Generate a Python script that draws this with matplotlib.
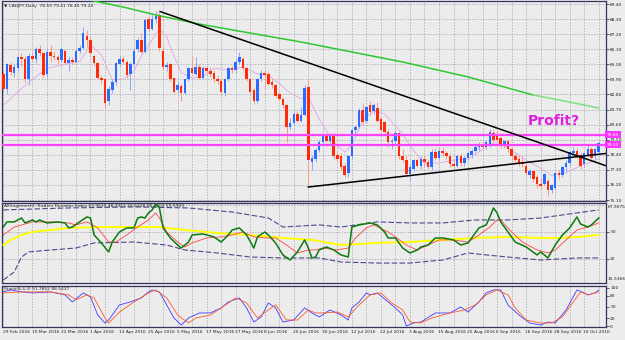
import matplotlib
matplotlib.use('Agg')
import matplotlib.pyplot as plt
import matplotlib.transforms as mtransforms

# ---- price data (CADJPY daily, 29 Feb 2016 .. 14 Oct 2016) ----
opens = [84.3, 83.2, 84.95, 84.4, 84.7, 85.5, 85.4, 83.9, 85.6, 85.4,
         86.1, 85.8, 84.3, 85.9, 85.6, 85.5, 85.3, 86.0, 85.1, 85.3,
         85.2, 86.0, 86.2, 87.1, 86.8, 85.6, 85.1, 84.0, 83.9, 82.3,
         83.1, 83.7, 85.0, 85.4, 85.2, 84.3, 85.0, 86.1, 86.8, 85.9,
         88.3, 87.6, 88.3, 88.6, 86.0, 84.8, 85.0, 84.0, 83.1, 83.4,
         82.9, 83.9, 84.7, 84.3, 84.8, 84.0, 84.7, 84.5, 84.4, 83.9,
         83.8, 82.9, 83.9, 84.7, 84.6, 85.2, 85.4, 84.7, 83.9, 83.1,
         82.3, 83.9, 84.4, 84.3, 83.7, 83.5, 82.8, 82.5, 82.0, 80.4,
         80.7, 81.4, 80.9, 81.3, 83.35, 77.9, 78.1, 78.75, 79.3, 79.8,
         79.4, 79.8, 78.4, 78.3, 77.6, 77.1, 78.3, 80.2, 80.4, 81.7,
         80.9, 82.0, 81.6, 81.8, 81.0, 80.8, 80.1, 79.3, 79.4, 80.0,
         78.3, 78.0, 77.0, 77.4, 78.0, 77.6, 78.1, 77.9, 77.5, 78.6,
         78.2, 78.7, 78.5, 78.3, 77.7, 77.6, 78.3, 77.8, 78.2, 78.4,
         78.7, 78.95, 79.2, 79.0, 79.1, 80.0, 79.9, 79.6, 79.1, 79.4,
         78.8, 78.3, 78.1, 77.9, 77.6, 76.9, 77.2, 76.8, 76.3, 76.3,
         76.5, 75.8, 76.0, 77.1, 76.9, 77.5, 77.8, 78.5, 78.7, 78.4,
         77.7, 78.4, 78.8, 78.3, 78.59]
highs = [84.5, 85.1, 85.2, 85.0, 85.7, 85.8, 85.6, 85.8, 85.9, 86.3,
         86.4, 85.9, 86.1, 86.4, 86.0, 85.7, 86.3, 86.1, 85.6, 85.5,
         86.1, 86.4, 87.7, 87.5, 87.0, 85.7, 85.2, 84.2, 84.0, 83.4,
         83.9, 85.2, 85.7, 85.6, 85.3, 85.2, 86.2, 87.0, 87.3, 88.3,
         88.5, 88.6, 88.9, 88.85, 86.3, 85.2, 85.1, 84.1, 83.7, 83.6,
         84.0, 84.8, 85.5, 85.5, 85.0, 84.9, 84.9, 84.8, 84.6, 84.2,
         83.9, 84.0, 84.8, 84.9, 85.4, 85.9, 85.5, 84.8, 84.0, 83.3,
         84.0, 84.6, 84.6, 84.5, 84.0, 83.6, 82.9, 82.6, 82.1, 81.1,
         81.5, 81.6, 81.9, 83.5, 83.86, 78.4, 78.9, 79.5, 79.9, 79.9,
         80.0, 80.1, 78.6, 78.5, 77.8, 78.4, 80.3, 80.6, 81.8, 82.2,
         82.0, 82.3, 82.2, 82.25, 81.2, 80.9, 80.3, 79.6, 80.2, 80.1,
         78.8, 78.4, 77.7, 78.1, 78.2, 78.3, 78.3, 78.1, 78.8, 78.9,
         78.9, 78.9, 78.7, 78.5, 78.0, 78.4, 78.5, 78.3, 78.6, 78.8,
         79.1, 79.3, 79.4, 79.5, 80.3, 80.2, 80.2, 79.7, 79.5, 79.5,
         78.9, 78.5, 78.4, 78.3, 77.8, 77.4, 77.3, 76.9, 76.7, 77.1,
         76.7, 76.3, 77.2, 77.3, 77.6, 78.0, 78.7, 79.0, 78.9, 78.6,
         78.6, 79.1, 79.0, 78.9, 79.41]
lows = [83.0, 82.8, 84.2, 84.1, 84.5, 84.9, 83.7, 83.5, 85.2, 85.1,
        85.6, 84.0, 84.1, 85.2, 85.3, 85.0, 85.2, 85.0, 84.5, 85.0,
        85.1, 85.8, 86.1, 86.3, 85.7, 84.9, 83.9, 83.6, 81.8, 82.0,
        82.9, 83.5, 84.9, 85.0, 84.0, 83.1, 84.9, 85.9, 85.8, 85.8,
        87.4, 87.5, 88.0, 86.0, 84.6, 84.5, 83.8, 82.9, 82.9, 82.3,
        82.8, 83.8, 84.3, 84.2, 83.9, 83.9, 84.3, 84.1, 83.7, 83.6,
        82.8, 82.7, 83.8, 84.4, 84.4, 85.0, 84.6, 83.8, 82.9, 82.1,
        82.2, 83.8, 83.2, 83.5, 83.3, 82.6, 82.3, 81.8, 79.3, 80.2,
        80.5, 80.8, 80.8, 81.2, 76.05, 77.3, 77.9, 78.6, 79.1, 79.3,
        79.2, 78.1, 77.9, 77.3, 76.7, 76.8, 78.1, 79.9, 80.3, 80.6,
        80.7, 81.3, 81.4, 80.8, 80.1, 79.9, 79.0, 78.8, 79.2, 78.1,
        77.9, 77.0, 76.5, 77.2, 77.5, 77.4, 77.6, 77.4, 77.3, 78.0,
        78.0, 78.3, 78.1, 77.5, 77.4, 77.5, 77.6, 77.6, 78.0, 78.2,
        78.5, 78.7, 78.8, 78.8, 79.0, 79.3, 79.4, 78.9, 78.9, 78.6,
        78.0, 77.8, 77.6, 77.5, 76.9, 76.7, 76.4, 76.0, 75.9, 76.2,
        75.4, 75.6, 75.9, 76.6, 76.8, 77.2, 77.6, 78.3, 78.2, 77.4,
        77.5, 78.3, 78.1, 78.1, 78.40]
closes = [83.2, 85.0, 84.45, 84.8, 85.5, 85.4, 83.9, 85.6, 85.4, 86.1,
          85.8, 84.2, 85.9, 85.6, 85.5, 85.3, 86.1, 85.1, 85.3, 85.2,
          86.0, 86.2, 87.3, 86.8, 85.8, 85.1, 84.0, 83.85, 82.2, 83.2,
          83.7, 85.1, 85.4, 85.2, 84.2, 85.0, 86.0, 86.8, 85.9, 88.2,
          87.6, 88.3, 88.5, 86.2, 84.8, 84.95, 83.9, 83.0, 83.5, 82.9,
          83.9, 84.7, 84.4, 84.8, 84.0, 84.7, 84.5, 84.3, 83.9, 83.8,
          83.0, 83.9, 84.7, 84.6, 85.2, 85.5, 84.7, 83.9, 83.0, 82.3,
          83.9, 84.4, 84.2, 83.6, 83.5, 82.7, 82.5, 82.0, 80.4, 80.7,
          81.4, 80.9, 81.3, 83.3, 78.0, 78.2, 78.75, 79.3, 79.8, 79.4,
          79.8, 78.3, 78.1, 77.5, 76.9, 78.3, 80.2, 80.4, 81.7, 80.8,
          81.9, 81.5, 82.0, 80.9, 80.2, 80.1, 79.3, 79.4, 80.0, 78.3,
          78.0, 77.0, 77.5, 78.0, 77.6, 78.1, 77.9, 77.5, 78.6, 78.2,
          78.7, 78.5, 78.3, 77.7, 77.6, 78.3, 77.8, 78.2, 78.5, 78.7,
          78.95, 79.1, 79.0, 79.3, 80.1, 79.5, 79.5, 79.1, 79.4, 78.8,
          78.3, 78.0, 77.8, 77.7, 77.1, 77.2, 76.6, 76.3, 76.1, 77.0,
          75.8, 76.2, 77.1, 76.9, 77.5, 77.8, 78.6, 78.7, 78.4, 77.6,
          78.5, 78.8, 78.2, 78.8, 79.24]

# fast moving average (pink), read at a few bars
pink_bars = [0, 4, 8, 12, 17, 21, 24, 27, 30, 33, 36, 38, 41, 43, 45, 47, 49, 52, 55, 58,
             62, 66, 70, 73, 76, 79, 82, 84, 87, 91, 94, 96, 99, 102, 105, 107, 110, 113,
             116, 120, 124, 128, 131, 134, 136, 139, 143, 148, 151, 155, 159, 162, 164]
pink_vals = [82.0, 83.0, 83.9, 84.7, 85.0, 85.2, 86.4, 85.7, 83.9, 83.9, 84.5, 85.6, 86.8,
             87.6, 87.0, 85.6, 84.4, 84.0, 84.1, 84.7, 84.6, 84.8, 84.3, 84.2, 83.6, 82.9,
             82.5, 82.6, 81.0, 79.3, 78.6, 79.1, 80.9, 81.6, 81.4, 80.8, 79.9, 78.7, 77.8,
             77.8, 78.0, 78.1, 78.6, 79.2, 79.3, 78.9, 78.2, 77.4, 76.9, 77.1, 77.6, 77.9, 78.1]

# slow moving average (green)
green_bars = [20, 25, 33, 42, 54, 68, 82, 96, 110, 128, 146, 156, 164]
green_vals = [90.0, 89.62, 89.18, 88.6, 87.94, 87.28, 86.63, 85.9, 85.17, 84.08, 82.76, 82.25, 81.81]

# trend lines and horizontal levels
upper_tl_bars = [43.2, 166.0]
upper_tl_prices = [88.85, 77.6]
lower_tl_bars = [84.0, 166.0]
lower_tl_prices = [76.05, 78.5]
hlevels = [79.85, 79.15]
price_ticks = [89.40, 88.30, 87.20, 86.10, 85.00, 83.90, 82.80, 81.70, 80.60,
               79.50, 78.40, 77.30, 76.20, 75.10]

# ---- Traders Dynamic Index ----
tdi_green_bars = [0, 1, 3, 5, 6, 8, 9, 10, 12, 15, 17, 18, 19, 21, 23, 24, 25, 27, 29, 30,
                  32, 34, 36, 37, 38, 39, 40, 41, 42, 43, 44, 46, 48, 49, 51, 52, 55, 58, 60,
                  62, 63, 65, 67, 69, 70, 72, 73, 75, 77, 79, 81, 83, 84, 85, 86, 87, 89, 91,
                  93, 95, 96, 98, 101, 103, 105, 106, 108, 110, 112, 114, 115, 117, 119, 121,
                  124, 126, 128, 129, 131, 133, 134, 135, 136, 137, 139, 141, 144, 147, 148,
                  150, 152, 154, 156, 158, 159, 161, 162, 164]
tdi_green_vals = [53.3, 56.7, 56.7, 59.3, 56.0, 58.0, 56.7, 58.0, 56.0, 56.7, 56.0, 52.7, 53.3,
                  56.7, 60.0, 59.3, 48.0, 42.7, 36.7, 43.3, 50.0, 52.7, 52.7, 59.3, 60.0, 59.3,
                  62.7, 64.7, 68.7, 66.0, 52.7, 46.0, 41.3, 39.3, 43.3, 48.0, 48.7, 46.7, 43.3,
                  48.0, 51.3, 52.7, 48.0, 39.3, 46.7, 50.0, 48.0, 42.7, 34.7, 31.3, 36.7, 44.7,
                  39.3, 32.7, 33.3, 38.0, 40.0, 38.0, 34.7, 33.3, 53.3, 54.7, 56.0, 54.7, 50.0,
                  46.0, 46.0, 39.3, 36.0, 38.0, 40.0, 41.3, 46.0, 46.0, 44.7, 41.3, 42.7, 46.0,
                  52.7, 54.7, 60.0, 66.0, 62.7, 56.7, 50.0, 43.3, 40.0, 34.7, 36.7, 32.7, 41.3,
                  48.0, 52.7, 60.0, 55.3, 53.3, 54.7, 59.3]
tdi_red_bars = [0, 3, 8, 13, 18, 20, 23, 26, 29, 31, 34, 37, 40, 42, 43, 45, 48, 50, 52, 56,
                60, 63, 66, 69, 73, 75, 78, 81, 84, 86, 88, 92, 95, 97, 100, 102, 106, 108,
                111, 114, 117, 120, 124, 128, 131, 134, 136, 137, 140, 143, 147, 150, 152,
                155, 158, 161, 164]
tdi_red_vals = [48.0, 53.3, 56.7, 56.7, 56.0, 54.7, 56.7, 52.7, 43.3, 43.3, 48.0, 53.3, 58.0,
                62.7, 59.3, 50.0, 43.3, 40.0, 42.7, 46.0, 46.7, 48.0, 50.0, 46.7, 46.0, 46.0,
                41.3, 36.0, 38.0, 38.0, 39.3, 38.0, 39.3, 46.0, 52.7, 54.7, 50.0, 46.7, 41.3,
                38.0, 41.3, 44.7, 44.7, 43.3, 48.0, 53.3, 58.0, 58.0, 50.0, 43.3, 38.0, 36.0,
                38.0, 44.7, 51.3, 53.3, 56.0]
tdi_yellow_bars = [0, 2, 5, 8, 18, 27, 36, 43, 50, 59, 68, 77, 85, 93, 103, 112, 121, 130,
                   139, 148, 153, 158, 164]
tdi_yellow_vals = [41.3, 44.7, 48.0, 50.0, 52.7, 53.3, 53.3, 53.3, 51.3, 49.3, 48.0, 46.0,
                   44.7, 41.3, 42.7, 43.3, 44.7, 46.0, 46.7, 46.0, 46.0, 46.7, 48.0]
tdi_up_bars = [0, 18, 36, 51, 63, 73, 77, 87, 93, 103, 112, 121, 130, 139, 148, 158, 164]
tdi_up_vals = [64.7, 66.0, 66.7, 66.0, 63.3, 59.3, 53.3, 54.7, 53.3, 56.7, 56.0, 56.0, 58.0,
               58.0, 59.3, 62.7, 64.7]
tdi_lo_bars = [0, 3, 5, 7, 13, 20, 25, 36, 45, 50, 59, 68, 77, 87, 93, 103, 112, 121, 128,
               133, 139, 148, 158, 164]
tdi_lo_vals = [18.0, 23.3, 33.3, 36.7, 38.0, 39.3, 42.7, 43.3, 41.3, 38.0, 36.0, 33.3, 32.7,
               32.7, 30.0, 29.3, 29.3, 31.3, 36.0, 34.7, 33.3, 31.3, 32.7, 32.7]

# ---- Stochastic ----
stoch_k_bars = [0, 2, 5, 8, 13, 17, 19, 22, 24, 26, 28, 29, 32, 35, 38, 40, 41, 43, 45, 47,
                49, 51, 54, 57, 60, 62, 65, 67, 69, 71, 73, 75, 77, 80, 83, 85, 87, 90, 93,
                95, 96, 98, 100, 101, 103, 106, 108, 110, 111, 113, 115, 119, 123, 126, 128,
                131, 133, 135, 137, 139, 142, 145, 148, 150, 152, 155, 158, 160, 161, 163, 164]
stoch_k_vals = [89.5, 94.7, 89.5, 86.8, 89.5, 81.6, 63.2, 86.8, 76.3, 28.9, 7.9, 15.8, 55.3,
                63.2, 73.7, 89.5, 94.7, 89.5, 55.3, 21.0, 2.6, 21.0, 34.2, 34.2, 47.4, 63.2,
                73.7, 47.4, 10.5, 23.7, 60.5, 47.4, 10.5, 15.8, 47.4, 34.2, 23.7, 42.1, 28.9,
                15.8, 47.4, 63.2, 86.8, 81.6, 86.8, 63.2, 47.4, 28.9, 0.0, 7.9, 10.5, 34.2,
                34.2, 50.0, 36.8, 63.2, 86.8, 94.7, 94.7, 55.3, 28.9, 7.9, 2.6, 10.5, 7.9,
                42.1, 94.7, 86.8, 81.6, 86.8, 94.7]
stoch_d_bars = [0, 5, 13, 18, 20, 23, 25, 28, 29, 32, 36, 40, 42, 45, 48, 51, 53, 57, 60, 64,
                67, 70, 73, 75, 78, 81, 84, 86, 88, 92, 95, 98, 101, 104, 107, 110, 112, 115,
                118, 123, 127, 130, 133, 136, 139, 141, 144, 148, 151, 154, 157, 159, 161, 164]
stoch_d_vals = [86.8, 89.5, 89.5, 81.6, 68.4, 81.6, 73.7, 21.0, 7.9, 36.8, 63.2, 86.8, 94.7,
                73.7, 28.9, 7.9, 21.0, 28.9, 47.4, 73.7, 60.5, 21.0, 42.1, 55.3, 15.8, 15.8,
                42.1, 34.2, 34.2, 36.8, 23.7, 55.3, 81.6, 86.8, 60.5, 42.1, 10.5, 7.9, 21.0,
                34.2, 42.1, 55.3, 81.6, 94.7, 81.6, 47.4, 15.8, 7.9, 7.9, 23.7, 63.2, 89.5,
                81.6, 89.5]

date_labels = ['29 Feb 2016', '10 Mar 2016', '22 Mar 2016', '1 Apr 2016', '13 Apr 2016',
               '25 Apr 2016', '5 May 2016', '17 May 2016', '27 May 2016', '8 Jun 2016',
               '20 Jun 2016', '30 Jun 2016', '12 Jul 2016', '22 Jul 2016', '3 Aug 2016',
               '15 Aug 2016', '25 Aug 2016', '6 Sep 2016', '16 Sep 2016', '28 Sep 2016',
               '10 Oct 2016']

# ---- styling ----
BG = '#ececec'
FRAME = '#33335e'
GRID = '#9d9da6'
SMALL = 3.2
XMIN, XMAX = -0.45, 166.0

fig = plt.figure(figsize=(6.25, 3.4), dpi=100, facecolor=BG)
W, H = 625.0, 340.0

def panel(top, bottom):
    return fig.add_axes([1.7 / W, 1 - bottom / H, (606 - 1.7) / W, (bottom - top) / H], facecolor=BG)

ax = panel(1, 201)
ax2 = panel(203, 283)
ax3 = panel(286, 327)

for a in (ax, ax2, ax3):
    a.set_xlim(XMIN, XMAX)
    a.set_xticks(range(0, 165, 4))
    a.tick_params(axis='x', length=0, labelbottom=False)
    a.grid(True, axis='x', color=GRID, lw=0.5, linestyle=(0, (2, 2)))
    a.yaxis.tick_right()
    a.tick_params(axis='y', length=2, width=0.5, pad=1, labelsize=SMALL, colors='#222222')
    for s in a.spines.values():
        s.set_color(FRAME)
        s.set_linewidth(0.9)
    a.set_axisbelow(True)

# ---- main price panel ----
ax.set_ylim(75.03, 89.62)
ax.set_yticks(price_ticks)
ax.set_yticklabels(['%.2f' % p for p in price_ticks])
ax.grid(True, axis='y', color=GRID, lw=0.5, linestyle=(0, (2, 2)))

idx = list(range(len(closes)))
bull = [c >= o for o, c in zip(opens, closes)]
body_col = ['#2a6cff' if b else '#ff2a0a' for b in bull]
wick_col = ['#86aaff' if b else '#ff9a82' for b in bull]
bottoms = [min(o, c) for o, c in zip(opens, closes)]
heights = [max(abs(c - o), 0.04) for o, c in zip(opens, closes)]
ax.vlines(idx, lows, highs, colors=wick_col, lw=0.7, zorder=2)
ax.bar(idx, heights, bottom=bottoms, width=0.7, color=body_col, lw=0, zorder=3)

ax.plot(pink_bars, pink_vals, color='#e2a6e2', lw=0.6, zorder=2)
ax.plot(green_bars[:-2], green_vals[:-2], color='#2ec82e', lw=1.1, zorder=4)
ax.plot(green_bars[-3:], green_vals[-3:], color='#7fe07f', lw=1.1, zorder=4)
ax.plot(upper_tl_bars, upper_tl_prices, color='black', lw=1.1, zorder=5)
ax.plot(lower_tl_bars, lower_tl_prices, color='black', lw=1.1, zorder=5)
for lv in hlevels:
    ax.axhline(lv, color='#ff44ff', lw=1.6, zorder=4)

ytrans = mtransforms.blended_transform_factory(ax.transAxes, ax.transData)
for lv in hlevels:
    ax.text(1.001, lv, '%.2f' % lv, transform=ytrans, fontsize=SMALL, color='white',
            va='center', ha='left', clip_on=False, zorder=6,
            bbox=dict(boxstyle='square,pad=0.35', fc='#ff33ff', ec='none'))

ax.text(144.5, 80.87, 'Profit?', fontsize=10, fontweight='bold', color='#e020e0',
        ha='left', va='center', zorder=6)
ax.text(0.004, 0.985, '\u25bc CADJPY,Daily  78.59 79.41 78.40 79.24', transform=ax.transAxes,
        fontsize=SMALL, color='#222222', ha='left', va='top')

# ---- TDI panel ----
ax2.set_ylim(16.0, 69.3)
ax2.set_yticks([50, 32])
ax2.set_yticklabels(['50', '32'])
for lv in (68, 50, 32):
    ax2.axhline(lv, color=GRID, lw=0.5, linestyle=(0, (2, 2)), zorder=1)
ax2.plot(tdi_up_bars, tdi_up_vals, color='#4a4a8c', lw=0.8, linestyle=(0, (5, 2)), zorder=2)
ax2.plot(tdi_lo_bars, tdi_lo_vals, color='#4a4a8c', lw=0.8, linestyle=(0, (5, 2)), zorder=2)
ax2.plot(tdi_yellow_bars, tdi_yellow_vals, color='#ffff00', lw=1.4, zorder=3)
ax2.plot(tdi_red_bars, tdi_red_vals, color='#ff4444', lw=0.6, zorder=4)
ax2.plot(tdi_green_bars, tdi_green_vals, color='#0c7a0c', lw=1.1, zorder=5)
ax2.text(0.004, 0.985, 'All(ingemesh): Traders Dynamic Index 63.9625 48.2312 32.5218 58.4802 59.5903',
         transform=ax2.transAxes, fontsize=SMALL, color='#222222', ha='left', va='top')
ax2.text(1.003, 0.98, '67.9075', transform=ax2.transAxes, fontsize=SMALL, color='#222222',
         ha='left', va='top', clip_on=False)
ax2.text(1.003, 0.02, '15.5366', transform=ax2.transAxes, fontsize=SMALL, color='#222222',
         ha='left', va='bottom', clip_on=False)

# ---- Stochastic panel ----
ax3.set_ylim(-2.6, 105.0)
ax3.set_yticks([100, 80, 50, 20, 0])
ax3.set_yticklabels(['100', '80', '50', '20', '0'])
ax3.plot(stoch_k_bars, stoch_k_vals, color='#3c3cff', lw=0.6, zorder=3)
ax3.plot(stoch_d_bars, stoch_d_vals, color='#ff5a28', lw=0.6, zorder=4)
ax3.text(0.004, 0.97, 'Stoch(8,3,3) 91.7852 88.5437', transform=ax3.transAxes,
         fontsize=SMALL, color='#222222', ha='left', va='top')

xtrans = mtransforms.blended_transform_factory(ax3.transData, ax3.transAxes)
for k, lab in enumerate(date_labels):
    ax3.text(k * 8 - 0.2, -0.08, lab, transform=xtrans, fontsize=SMALL, color='#222222',
             ha='left', va='top', clip_on=False)

fig.savefig('out.png', dpi=100, facecolor=BG)
